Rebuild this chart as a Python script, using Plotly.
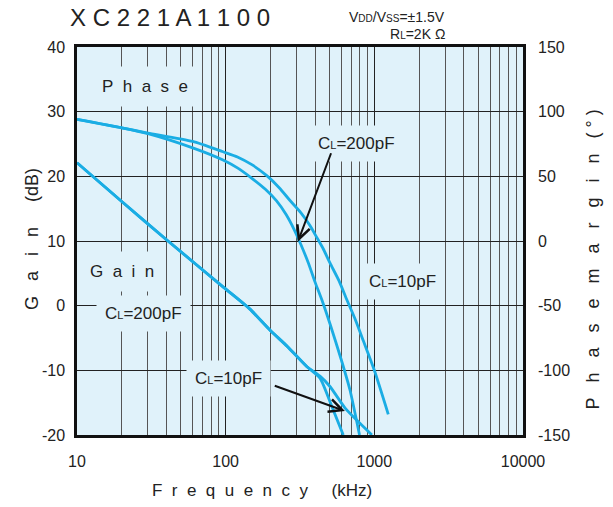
import plotly.graph_objects as go
import math

# ---------------- data ----------------
freq_gain_200 = [10, 20, 40, 96, 145, 199, 260, 351, 431, 516, 618]
gain_200 = [22.1, 16.1, 10.2, 2.9, -0.5, -3.8, -6.3, -9.4, -11.2, -15.5, -20.0]

freq_gain_10 = [10, 20, 40, 96, 145, 199, 260, 351, 431, 503, 634, 800, 963]
gain_10 = [22.1, 16.1, 10.2, 2.9, -0.5, -3.8, -6.3, -9.4, -10.9, -12.5, -15.8, -18.2, -20.0]

freq_phase_200 = [10, 20, 30, 60, 96, 120, 150, 185, 220, 255, 290, 320, 360, 400, 450, 503, 600, 685, 795]
phase_200 = [94, 87.5, 83, 72, 62.6, 56.5, 48.5, 40, 31, 20.5, 8.5, -2.5, -17, -32, -47.5, -64, -92, -115, -150]

freq_phase_10 = [10, 20, 30, 60, 96, 120, 150, 189, 230, 270, 320, 369, 409, 453, 503, 580, 651, 740, 842, 1000, 1241]
phase_10 = [94, 87.5, 83.5, 77, 69, 65, 59, 50.5, 41, 31.5, 22, 12, 3, -6, -17, -31, -45, -60, -77, -100, -134]

x_ticks = [10, 100, 1000, 10000]
gain_ticks = [-20, -10, 0, 10, 20, 30, 40]
phase_ticks = [-150, -100, -50, 0, 50, 100, 150]

# ---------------- styling ----------------
FONT = "Liberation Sans, Arial, sans-serif"
CURVE = "#1AADE4"
BG = "#E0F2FA"
NB = "\u00a0"


def spaced(word, n=2):
    return (NB * n).join(list(word))


def cl(val):
    return "C<span style='font-size:11px'>L</span>=" + val


fig = go.Figure()

line = dict(color=CURVE, width=2.8, shape="spline", smoothing=0.6)
fig.add_trace(go.Scatter(x=freq_gain_200, y=gain_200, mode="lines", line=line,
                         yaxis="y", showlegend=False, hoverinfo="skip"))
fig.add_trace(go.Scatter(x=freq_gain_10, y=gain_10, mode="lines", line=line,
                         yaxis="y", showlegend=False, hoverinfo="skip"))
fig.add_trace(go.Scatter(x=freq_phase_200, y=phase_200, mode="lines", line=line,
                         yaxis="y2", showlegend=False, hoverinfo="skip"))
fig.add_trace(go.Scatter(x=freq_phase_10, y=phase_10, mode="lines", line=line,
                         yaxis="y2", showlegend=False, hoverinfo="skip"))

tickfont = dict(family=FONT, size=16, color="#222")

fig.update_layout(
    width=613, height=507,
    margin=dict(l=77, r=90, t=47, b=72),
    paper_bgcolor="white",
    plot_bgcolor=BG,
    font=dict(family=FONT, color="#222"),
    xaxis=dict(
        type="log", range=[1, 4],
        tickvals=x_ticks, ticktext=[str(v) for v in x_ticks],
        tickfont=tickfont, ticks="", ticklabelstandoff=10,
        showgrid=True, gridcolor="#222", gridwidth=1,
        minor=dict(dtick="D1", showgrid=True, gridcolor="#555", gridwidth=1, ticks=""),
        showline=True, linecolor="#111", linewidth=2.5, mirror=True,
        zeroline=False,
    ),
    yaxis=dict(
        range=[-20, 40], tickvals=gain_ticks, ticktext=[str(v) for v in gain_ticks],
        tickfont=tickfont, ticks="", ticklabelstandoff=6,
        showgrid=True, gridcolor="#222", gridwidth=1,
        showline=True, linecolor="#111", linewidth=2.5, mirror=True,
        zeroline=False,
    ),
    yaxis2=dict(
        range=[-150, 150], tickvals=phase_ticks, ticktext=[str(v) for v in phase_ticks],
        overlaying="y", side="right",
        tickfont=tickfont, ticks="", ticklabelstandoff=14,
        showgrid=False, zeroline=False, showline=False,
    ),
)

ann = []
# chart title and conditions
ann.append(dict(xref="paper", yref="paper", x=-0.02, y=1.075, xanchor="left", yanchor="middle",
                text=" ".join(list("XC221A1100")), showarrow=False,
                font=dict(family=FONT, size=24, color="#222")))
ann.append(dict(xref="paper", yref="paper", x=0.83, y=1.078, xanchor="right", yanchor="middle",
                text="V<span style='font-size:10px'>DD</span>/V<span style='font-size:10px'>SS</span>=±1.5V",
                showarrow=False, font=dict(family=FONT, size=14, color="#222")))
ann.append(dict(xref="paper", yref="paper", x=0.83, y=1.034, xanchor="right", yanchor="middle",
                text="R<span style='font-size:10px'>L</span>=2K" + NB + "Ω",
                showarrow=False, font=dict(family=FONT, size=14, color="#222")))

# axis titles
ann.append(dict(xref="paper", yref="paper", x=-0.128, y=0.505, textangle=-90,
                text=spaced("Gain", 3) + NB * 5 + "(dB)", showarrow=False,
                font=dict(family=FONT, size=18, color="#222")))
ann.append(dict(xref="paper", yref="paper", x=1.185, y=0.451, textangle=-90,
                text=spaced("Phasemargin", 3) + NB * 3 + "(" + NB + "°" + NB + ")", showarrow=False,
                font=dict(family=FONT, size=18, color="#222")))
ann.append(dict(xref="paper", yref="paper", x=0.414, y=-0.172,
                text=spaced("Frequency", 2) + NB * 5 + "(kHz)", showarrow=False,
                font=dict(family=FONT, size=17, color="#222")))

# in-plot labels (with background to break the grid)
def label(text, fx, dB, pad=8):
    return dict(xref="x", yref="y", x=math.log10(fx), y=dB, text=text, showarrow=False,
                bgcolor=BG, borderpad=pad, font=dict(family=FONT, size=17, color="#222"))

ann.append(label(spaced("Phase", 2), 28.6, 33.9, pad=10))
ann.append(label(spaced("Gain", 2), 20.1, 5.3, pad=10))
ann.append(label(cl("200pF"), 28.2, -1.2))
ann.append(label(cl("10pF"), 104, -11.2))
ann.append(label(cl("200pF"), 760, 25.1))
ann.append(label(cl("10pF"), 1545, 3.7))

# arrows
def arrow(f_tail, db_tail, f_head, db_head):
    return dict(xref="x", yref="y", axref="x", ayref="y",
                x=math.log10(f_head), y=db_head, ax=math.log10(f_tail), ay=db_tail,
                text="", showarrow=True, arrowhead=5, arrowsize=1.3, arrowwidth=2,
                arrowcolor="#111", standoff=0, startstandoff=0)

ann.append(arrow(516, 23.8, 306, 9.9))
ann.append(arrow(209, -12.3, 634, -16.3))

fig.update_layout(annotations=ann)

fig.write_html("out.html")
